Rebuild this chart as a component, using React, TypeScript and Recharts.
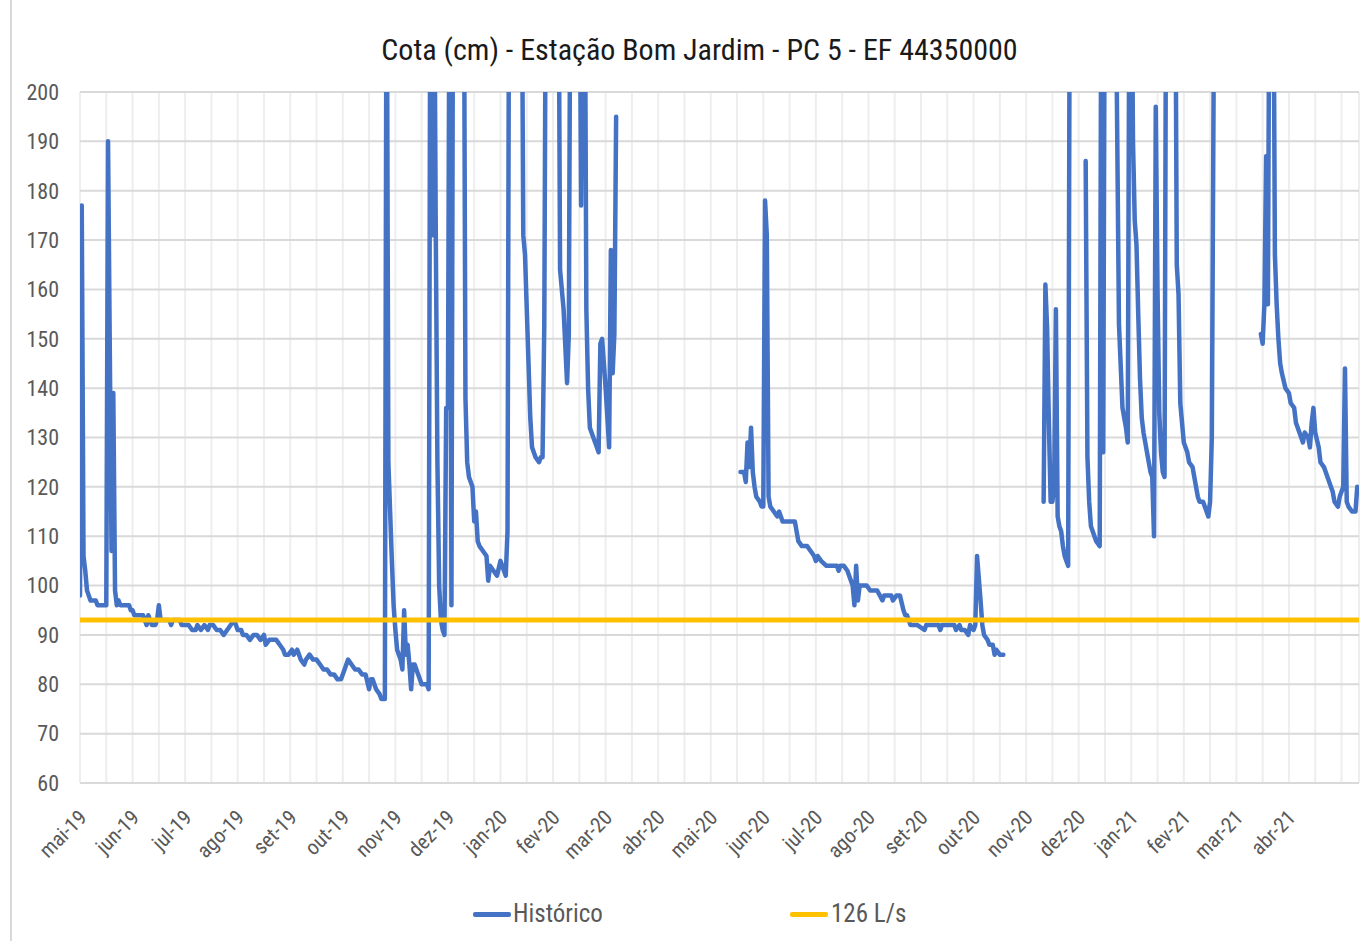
import React from 'react';
import { LineChart, Line, XAxis, YAxis, CartesianGrid, Legend } from 'recharts';

// Eixo X: um ponto por dia a partir de 01-mai-2019 (731 dias), rótulo a cada 30 pontos
const meses = [
  'mai-19', 'jun-19', 'jul-19', 'ago-19', 'set-19', 'out-19', 'nov-19', 'dez-19',
  'jan-20', 'fev-20', 'mar-20', 'abr-20', 'mai-20', 'jun-20', 'jul-20', 'ago-20',
  'set-20', 'out-20', 'nov-20', 'dez-20', 'jan-21', 'fev-21', 'mar-21', 'abr-21',
];
const yTicks = [60, 70, 80, 90, 100, 110, 120, 130, 140, 150, 160, 170, 180, 190, 200];
const xGridDias = [0, 15, 30, 45, 60, 75, 90, 105, 120, 135, 150, 165, 180, 195, 210, 225, 240, 255, 270, 285, 300, 315, 330, 345, 360, 375, 390, 405, 420, 435, 450, 465, 480, 495, 510, 525, 540, 555, 570, 585, 600, 615, 630, 645, 660, 675, 690, 705, 720, 730];

// Histórico - período 1 (mai-19 a mar-20)
const periodo1Dias = [0, 1, 2, 3, 4, 5, 6, 8, 9, 10, 15, 16, 17, 18, 19, 20, 21, 22, 23, 27, 28, 29, 30, 31, 33, 35, 36, 38, 39, 41, 43, 44, 45, 46, 51, 52, 53, 57, 58, 62, 64, 66, 67, 69, 71, 73, 74, 76, 78, 80, 82, 84, 86, 88, 89, 90, 92, 93, 95, 97, 99, 101, 103, 105, 106, 108, 112, 114, 116, 117, 119, 121, 122, 124, 126, 128, 129, 131, 133, 135, 137, 139, 141, 143, 145, 147, 149, 151, 153, 155, 157, 159, 161, 163, 165, 166, 167, 169, 171, 172, 174, 175, 176, 177, 178, 179, 180, 181, 182, 183, 184, 185, 186, 187, 188, 189, 190, 191, 192, 193, 194, 195, 198, 199, 200, 201, 202, 203, 204, 205, 206, 207, 208, 209, 210, 211, 212, 213, 219, 220, 221, 222, 224, 225, 226, 227, 228, 230, 232, 233, 234, 236, 238, 240, 242, 243, 244, 245, 252, 253, 254, 256, 257, 258, 260, 262, 263, 264, 265, 266, 273, 274, 276, 278, 279, 280, 285, 286, 287, 288, 289, 290, 291, 293, 295, 296, 297, 298, 300, 302, 303, 304, 305, 306];
const periodo1Cota = [98, 177, 106, 103, 99, 98, 97, 97, 97, 96, 96, 190, 148, 107, 139, 99, 96, 97, 96, 96, 96, 95, 95, 94, 94, 94, 94, 92, 94, 92, 92, 93, 96, 93, 93, 92, 93, 93, 92, 92, 91, 91, 92, 91, 92, 91, 92, 92, 91, 91, 90, 91, 92, 93, 92, 91, 91, 90, 90, 89, 90, 90, 89, 90, 88, 89, 89, 88, 87, 86, 86, 87, 86, 87, 85, 84, 85, 86, 85, 85, 84, 83, 83, 82, 82, 81, 81, 83, 85, 84, 83, 83, 82, 82, 79, 81, 81, 79, 78, 77, 77, 240, 125, 115, 105, 96, 91, 87, 86, 85, 83, 95, 86, 88, 84, 79, 84, 84, 83, 82, 81, 80, 80, 79, 240, 171, 240, 175, 125, 100, 93, 91, 90, 136, 136, 240, 96, 240, 240, 138, 125, 122, 120, 113, 115, 109, 108, 107, 106, 101, 104, 103, 102, 105, 103, 102, 111, 240, 240, 171, 167, 145, 134, 128, 126, 125, 126, 126, 153, 240, 240, 164, 156, 141, 151, 240, 240, 177, 240, 240, 156, 140, 132, 130, 128, 127, 149, 150, 140, 128, 168, 143, 151, 195];

// Histórico - período 2 (mai-20 a out-20)
const periodo2Dias = [377, 379, 380, 381, 382, 383, 384, 385, 386, 388, 389, 390, 391, 392, 393, 394, 396, 398, 399, 401, 402, 408, 409, 410, 412, 415, 417, 419, 420, 421, 423, 426, 432, 433, 434, 436, 438, 439, 441, 442, 443, 444, 445, 449, 451, 455, 458, 459, 463, 464, 466, 468, 470, 471, 472, 474, 478, 482, 483, 490, 491, 492, 499, 500, 502, 503, 505, 507, 508, 510, 511, 512, 514, 515, 516, 518, 519, 521, 522, 523, 525, 527];
const periodo2Cota = [123, 123, 121, 129, 124, 132, 123, 120, 118, 117, 116, 116, 178, 171, 118, 116, 115, 114, 115, 113, 113, 113, 111, 109, 108, 108, 107, 106, 105, 106, 105, 104, 104, 103, 104, 104, 103, 102, 100, 96, 104, 97, 100, 100, 99, 99, 97, 98, 98, 97, 98, 98, 95, 94, 94, 92, 92, 91, 92, 92, 91, 92, 92, 91, 92, 91, 91, 90, 92, 91, 92, 106, 97, 92, 90, 89, 88, 88, 86, 87, 86, 86];

// Histórico - período 3 (nov-20)
const periodo3Dias = [550, 551, 552, 553, 554, 555, 556, 557, 558, 559, 560, 561, 562, 563, 564, 565];
const periodo3Cota = [117, 161, 152, 133, 117, 117, 120, 156, 114, 112, 111, 108, 106, 105, 104, 240];

// Histórico - período 4 (nov-20 a fev-21)
const periodo4Dias = [574, 575, 576, 577, 578, 580, 582, 583, 584, 585, 591, 593, 595, 596, 597, 598, 599, 600, 601, 602, 603, 604, 605, 606, 607, 608, 609, 610, 611, 612, 613, 614, 615, 616, 617, 618, 619, 620, 625, 626, 627, 628, 630, 632, 633, 635, 636, 637, 638, 639, 641, 643, 644, 645, 646, 647, 648];
const periodo4Cota = [186, 126, 117, 112, 111, 109, 108, 240, 127, 240, 230, 153, 136, 134, 132, 129, 230, 240, 190, 174, 169, 155, 142, 134, 131, 129, 127, 125, 123, 122, 110, 197, 160, 135, 127, 123, 122, 240, 240, 165, 159, 137, 129, 127, 125, 124, 122, 120, 118, 117, 117, 115, 114, 117, 130, 200, 240];

// Histórico - período 5 (mar-21 a abr-21)
const periodo5Dias = [674, 675, 676, 677, 678, 679, 681, 682, 683, 684, 685, 686, 688, 690, 691, 693, 694, 696, 697, 698, 699, 701, 702, 703, 704, 705, 707, 708, 710, 712, 713, 715, 716, 718, 719, 720, 721, 722, 723, 724, 726, 728, 729, 730];
const periodo5Cota = [151, 149, 157, 187, 157, 240, 240, 167, 157, 150, 145, 143, 140, 139, 137, 136, 133, 131, 130, 129, 131, 130, 128, 133, 136, 131, 128, 125, 124, 122, 121, 119, 117, 116, 118, 119, 120, 144, 117, 116, 115, 115, 120, 119];

// Linha de referência 126 L/s
const referenciaDias = [0, 730];
const referenciaCota = [93, 93];

const AZUL = '#4472C4';
const AMARELO = '#FFC000';
const CINZA_TXT = '#595959';
const FONTE = "'Liberation Sans Narrow', 'Roboto Condensed', Roboto, sans-serif";

type Ponto = { dia: number; cota: number | null };

const periodos: Array<[number[], number[]]> = [
  [periodo1Dias, periodo1Cota],
  [periodo2Dias, periodo2Cota],
  [periodo3Dias, periodo3Cota],
  [periodo4Dias, periodo4Cota],
  [periodo5Dias, periodo5Cota],
];

const historico: Ponto[] = [];
periodos.forEach(([dias, cotas], i) => {
  if (i > 0) {
    historico.push({ dia: dias[0] - 1, cota: null });
  }
  dias.forEach((d, j) => historico.push({ dia: d, cota: cotas[j] }));
});

const referencia: Ponto[] = referenciaDias.map((d, i) => ({ dia: d, cota: referenciaCota[i] }));

const MonthTick = (props: any) => {
  const { x, y, payload } = props;
  const v = payload.value as number;
  if (v % 30 !== 0) return null;
  const label = meses[v / 30];
  if (!label) return null;
  return (
    <g transform={`translate(${x + 8},${y + 28})`}>
      <text
        x={0}
        y={0}
        textAnchor="end"
        transform="rotate(-45)"
        fill={CINZA_TXT}
        fontSize={21}
        fontFamily={FONTE}
      >
        {label}
      </text>
    </g>
  );
};

const LegendaConteudo = () => (
  <div style={{ position: 'relative', width: 1364, height: 58, fontFamily: FONTE }}>
    <div style={{ position: 'absolute', left: 473, top: 29, width: 38, height: 5, background: AZUL, borderRadius: 2 }} />
    <div style={{ position: 'absolute', left: 513, top: 15, fontSize: 25, color: CINZA_TXT, lineHeight: '32px' }}>Histórico</div>
    <div style={{ position: 'absolute', left: 790, top: 29, width: 38, height: 5, background: AMARELO, borderRadius: 2 }} />
    <div style={{ position: 'absolute', left: 831, top: 15, fontSize: 25, color: CINZA_TXT, lineHeight: '32px' }}>126 L/s</div>
  </div>
);

export default function App() {
  return (
    <div style={{ position: 'absolute', left: 0, top: 0, width: 1364, height: 941, background: '#fff', overflow: 'hidden' }}>
      <div style={{ position: 'absolute', left: 10, top: 0, width: 2, height: 941, background: '#d9d9d9' }} />
      <div
        style={{
          position: 'absolute',
          left: 0,
          top: 30,
          width: 1399,
          textAlign: 'center',
          fontFamily: FONTE,
          fontSize: 30,
          color: '#1a1a1a',
          lineHeight: '40px',
        }}
      >
        Cota (cm) - Estação Bom Jardim - PC 5 - EF 44350000
      </div>
      <div style={{ position: 'absolute', left: 0, top: 0 }}>
        <LineChart width={1364} height={941} margin={{ top: 92, right: 5, bottom: 0, left: 20 }}>
          <CartesianGrid horizontal={false} vertical={true} stroke="#eeeeee" strokeWidth={2} />
          <CartesianGrid horizontal={true} vertical={false} stroke="#d9d9d9" strokeWidth={2} />
          <XAxis
            dataKey="dia"
            type="number"
            domain={[0, 730]}
            ticks={xGridDias}
            interval={0}
            allowDataOverflow
            tick={<MonthTick />}
            tickLine={false}
            axisLine={{ stroke: '#d9d9d9', strokeWidth: 2 }}
            height={100}
          />
          <YAxis
            type="number"
            domain={[60, 200]}
            ticks={yTicks}
            interval={0}
            allowDataOverflow
            width={60}
            tickLine={false}
            axisLine={false}
            tickSize={0}
            tickMargin={21}
            tick={{ fill: CINZA_TXT, fontSize: 22, fontFamily: FONTE }}
          />
          <Legend verticalAlign="bottom" content={<LegendaConteudo />} wrapperStyle={{ left: 0, width: 1364, height: 58 }} />
          <Line
            name="Histórico"
            data={historico}
            dataKey="cota"
            type="linear"
            stroke={AZUL}
            strokeWidth={4.5}
            strokeLinejoin="round"
            strokeLinecap="round"
            dot={false}
            activeDot={false}
            connectNulls={false}
            isAnimationActive={false}
          />
          <Line
            name="126 L/s"
            data={referencia}
            dataKey="cota"
            type="linear"
            stroke={AMARELO}
            strokeWidth={5}
            dot={false}
            activeDot={false}
            isAnimationActive={false}
          />
        </LineChart>
      </div>
    </div>
  );
}
